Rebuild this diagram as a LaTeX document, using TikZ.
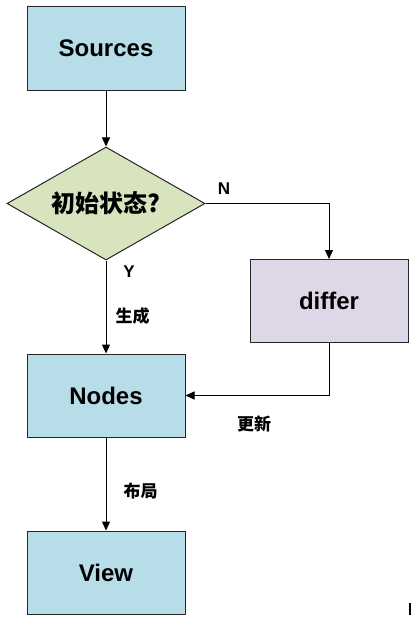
\documentclass[tikz,border=0pt]{standalone}
\usepackage{fontspec}
\setmainfont{Liberation Sans}
\newfontfamily\cjk{Noto Sans CJK SC}
\usetikzlibrary{shapes.geometric,arrows.meta}

\definecolor{boxblue}{HTML}{B7DDE8}
\definecolor{boxgreen}{HTML}{D7E4BD}
\definecolor{boxlilac}{HTML}{DDD7E7}

\tikzset{
    boxnode/.style={draw=black!85, line width=1pt, minimum width=158pt,
        minimum height=83pt, inner sep=0pt,
        font=\fontsize{24}{28}\selectfont\bfseries},
    decision/.style={diamond, aspect=1.75, draw=black!85, line width=1pt,
        fill=boxgreen, minimum width=198pt, minimum height=113pt, inner sep=0pt,
        font=\fontsize{24}{28}\selectfont\bfseries\cjk},
    tag/.style={font=\fontsize{17}{20}\selectfont\bfseries, inner sep=0pt},
    cjktag/.style={tag, font=\fontsize{17}{20}\selectfont\bfseries\cjk},
}

\begin{document}
\begin{tikzpicture}[x=1pt, y=-1pt, >={Triangle[length=9pt,width=8pt]}]
    \useasboundingbox (0,0) rectangle (419,626);

    \node [boxnode, fill=boxblue] at (106, 48.5) (sources) {Sources};
    \node [decision] at (106, 203.5) (init) {初始状态?};
    \node [boxnode, fill=boxlilac] at (329, 301) (differ) {differ};
    \node [boxnode, fill=boxblue] at (106, 395.5) (nodes) {Nodes};
    \node [boxnode, fill=boxblue] at (106, 572.5) (view) {View};

    \node [tag] at (224, 189) (no) {N};
    \node [tag] at (129, 272) (yes) {Y};
    \node [cjktag] at (132.5, 316) (gen) {生成};
    \node [cjktag] at (254, 424) (upd) {更新};
    \node [cjktag] at (140.5, 491) (lay) {布局};

    \path [->, line width=1pt]
        (sources) edge (init)
        (init) edge [to path={-| (\tikztotarget)}] (differ)
        (init) edge (nodes)
        (differ) edge [to path={|- (\tikztotarget)}] (nodes)
        (nodes) edge (view);

    \fill (408.5, 603) rectangle (411, 615);
\end{tikzpicture}
\end{document}
